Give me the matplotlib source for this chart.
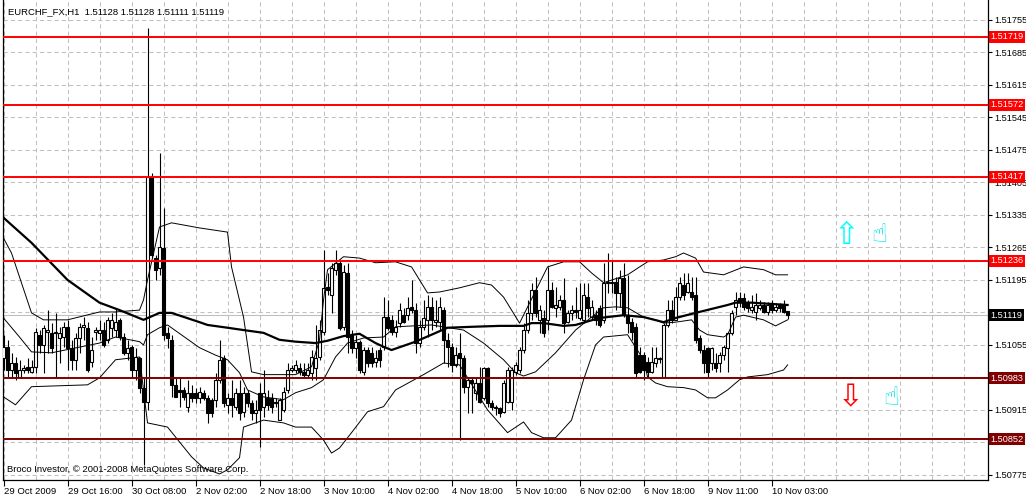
import matplotlib
matplotlib.use("Agg")
import matplotlib.pyplot as plt

plt.rcParams['font.family'] = ['Liberation Sans', 'DejaVu Sans']

# EURCHF H1 bars, 29 Oct 2009 00:00 .. 10 Nov 2009
opens = [
    1.51027, 1.51051, 1.51001, 1.51016, 1.50986, 1.51001, 1.51008, 1.50997, 1.51008, 1.51077,
    1.51055, 1.51083, 1.51081, 1.51081, 1.51070, 1.51072, 1.51094, 1.51049, 1.51023, 1.51070,
    1.51094, 1.51092, 1.51018, 1.51083, 1.51081, 1.51087, 1.51066, 1.51092, 1.51087, 1.51109,
    1.51072, 1.51038, 1.51051, 1.51001, 1.51027, 1.50963, 1.50933, 1.51417, 1.51242, 1.51221,
    1.51264, 1.51081, 1.51066, 1.50969, 1.50958, 1.50958, 1.50922, 1.50952, 1.50952, 1.50941,
    1.50952, 1.50941, 1.50937, 1.50937, 1.50980, 1.51027, 1.50926, 1.50941, 1.50922, 1.50952,
    1.50911, 1.50952, 1.50930, 1.50909, 1.50952, 1.50922, 1.50941, 1.50941, 1.50933, 1.50893,
    1.50915, 1.50958, 1.51001, 1.51001, 1.51005, 1.50997, 1.50991, 1.50995, 1.51005, 1.51029,
    1.51083, 1.51180, 1.51163, 1.51217, 1.51232, 1.51094, 1.51210, 1.51077, 1.51049, 1.51062,
    1.50997, 1.51044, 1.51038, 1.51018, 1.51044, 1.51051, 1.51115, 1.51109, 1.51083, 1.51102,
    1.51119, 1.51119, 1.51137, 1.51130, 1.51059, 1.51094, 1.51109, 1.51137, 1.51104, 1.51104,
    1.51130, 1.51066, 1.51051, 1.51012, 1.51038, 1.51027, 1.50965, 1.50980, 1.50952, 1.50973,
    1.50941, 1.51005, 1.50930, 1.50922, 1.50919, 1.50911, 1.50933, 1.50933, 1.50997, 1.51001,
    1.51044, 1.51087, 1.51124, 1.51173, 1.51109, 1.51113, 1.51109, 1.51173, 1.51135, 1.51137,
    1.51152, 1.51104, 1.51124, 1.51130, 1.51113, 1.51109, 1.51158, 1.51115, 1.51119, 1.51135,
    1.51109, 1.51189, 1.51191, 1.51191, 1.51167, 1.51199, 1.51119, 1.51104, 1.51094, 1.51033,
    1.51033, 1.51018, 1.50997, 1.51016, 1.51025, 1.50986, 1.51098, 1.51130, 1.51109, 1.51158,
    1.51184, 1.51169, 1.51169, 1.51163, 1.51070, 1.51044, 1.51049, 1.51016, 1.51016, 1.51016,
    1.51033, 1.51049, 1.51081, 1.51137, 1.51156, 1.51156, 1.51146, 1.51130, 1.51126, 1.51135,
    1.51141, 1.51126, 1.51146, 1.51130, 1.51141, 1.51141, 1.51128,
]
highs = [
    1.51077, 1.51066, 1.51038, 1.51029, 1.51023, 1.51012, 1.51027, 1.51023, 1.51092, 1.51087,
    1.51098, 1.51130, 1.51102, 1.51124, 1.51094, 1.51104, 1.51109, 1.51066, 1.51081, 1.51102,
    1.51115, 1.51104, 1.51072, 1.51094, 1.51109, 1.51104, 1.51115, 1.51124, 1.51135, 1.51113,
    1.51081, 1.51066, 1.51055, 1.51049, 1.51029, 1.50984, 1.51738, 1.51425, 1.51249, 1.51469,
    1.51350, 1.51094, 1.51077, 1.50984, 1.50984, 1.50965, 1.50980, 1.50969, 1.50963, 1.50965,
    1.50958, 1.50948, 1.50941, 1.50995, 1.51066, 1.51033, 1.50952, 1.50980, 1.50963, 1.50980,
    1.50965, 1.50958, 1.50937, 1.50937, 1.50973, 1.51001, 1.50958, 1.50952, 1.50941, 1.50941,
    1.50965, 1.51016, 1.51012, 1.51023, 1.51016, 1.51016, 1.51016, 1.51044, 1.51098, 1.51109,
    1.51260, 1.51210, 1.51232, 1.51260, 1.51238, 1.51228, 1.51232, 1.51087, 1.51077, 1.51066,
    1.51051, 1.51051, 1.51051, 1.51044, 1.51051, 1.51158, 1.51152, 1.51119, 1.51109, 1.51146,
    1.51135, 1.51158, 1.51195, 1.51146, 1.51109, 1.51152, 1.51163, 1.51158, 1.51152, 1.51158,
    1.51137, 1.51081, 1.51059, 1.51051, 1.51081, 1.51033, 1.50986, 1.50986, 1.50986, 1.51008,
    1.51008, 1.51008, 1.50937, 1.50926, 1.50922, 1.50980, 1.51008, 1.51008, 1.51018, 1.51051,
    1.51102, 1.51152, 1.51189, 1.51201, 1.51141, 1.51130, 1.51223, 1.51191, 1.51180, 1.51163,
    1.51199, 1.51130, 1.51141, 1.51180, 1.51189, 1.51189, 1.51189, 1.51152, 1.51130, 1.51141,
    1.51232, 1.51253, 1.51238, 1.51201, 1.51217, 1.51232, 1.51206, 1.51113, 1.51102, 1.51051,
    1.51040, 1.51029, 1.51051, 1.51051, 1.51029, 1.51102, 1.51152, 1.51152, 1.51180, 1.51201,
    1.51210, 1.51210, 1.51201, 1.51201, 1.51077, 1.51055, 1.51051, 1.51051, 1.51038, 1.51040,
    1.51055, 1.51083, 1.51130, 1.51169, 1.51169, 1.51167, 1.51152, 1.51163, 1.51167, 1.51152,
    1.51148, 1.51148, 1.51152, 1.51146, 1.51146, 1.51152, 1.51128,
]
lows = [
    1.51001, 1.50986, 1.50984, 1.50980, 1.50984, 1.50995, 1.50995, 1.50995, 1.50995, 1.51038,
    1.50995, 1.51038, 1.51038, 1.50984, 1.51016, 1.51051, 1.51001, 1.51001, 1.51001, 1.51038,
    1.51066, 1.50997, 1.51008, 1.51066, 1.51066, 1.51051, 1.51059, 1.51072, 1.51072, 1.51066,
    1.51033, 1.51023, 1.50984, 1.50980, 1.50952, 1.50797, 1.50915, 1.51242, 1.51195, 1.51206,
    1.51066, 1.51049, 1.50943, 1.50943, 1.50922, 1.50937, 1.50911, 1.50933, 1.50930, 1.50930,
    1.50937, 1.50887, 1.50900, 1.50922, 1.50973, 1.50922, 1.50909, 1.50900, 1.50915, 1.50893,
    1.50900, 1.50922, 1.50893, 1.50887, 1.50835, 1.50900, 1.50915, 1.50909, 1.50922, 1.50893,
    1.50911, 1.50952, 1.50997, 1.50995, 1.50991, 1.50986, 1.50986, 1.50980, 1.50980, 1.51023,
    1.51077, 1.51163, 1.51124, 1.51206, 1.51087, 1.51087, 1.51038, 1.51038, 1.51027, 1.50995,
    1.50991, 1.51008, 1.51008, 1.51008, 1.51008, 1.51044, 1.51087, 1.51077, 1.51072, 1.51094,
    1.51102, 1.51109, 1.51124, 1.51038, 1.51051, 1.51087, 1.51072, 1.51087, 1.51094, 1.51087,
    1.51016, 1.51008, 1.50997, 1.51008, 1.50850, 1.50952, 1.50909, 1.50909, 1.50937, 1.50930,
    1.50937, 1.50922, 1.50915, 1.50904, 1.50900, 1.50909, 1.50930, 1.50915, 1.50991, 1.50995,
    1.51038, 1.51081, 1.51109, 1.51115, 1.51081, 1.51072, 1.51087, 1.51135, 1.51115, 1.51130,
    1.51081, 1.51102, 1.51109, 1.51113, 1.51109, 1.51102, 1.51115, 1.51109, 1.51098, 1.51094,
    1.51102, 1.51167, 1.51167, 1.51130, 1.51137, 1.51115, 1.51081, 1.51066, 1.50986, 1.50995,
    1.50980, 1.50986, 1.50995, 1.51008, 1.51016, 1.50986, 1.51094, 1.51102, 1.51109, 1.51152,
    1.51152, 1.51167, 1.51152, 1.51059, 1.51038, 1.50995, 1.50986, 1.51001, 1.50997, 1.50997,
    1.51023, 1.50997, 1.51077, 1.51119, 1.51137, 1.51130, 1.51126, 1.51124, 1.51109, 1.51130,
    1.51124, 1.51119, 1.51124, 1.51126, 1.51126, 1.51124, 1.51111,
]
closes = [
    1.51051, 1.51001, 1.51016, 1.50995, 1.51001, 1.51005, 1.51001, 1.51008, 1.51083, 1.51055,
    1.51092, 1.51087, 1.51049, 1.51083, 1.51081, 1.51094, 1.51049, 1.51023, 1.51070, 1.51094,
    1.51098, 1.51001, 1.51044, 1.51087, 1.51087, 1.51055, 1.51109, 1.51109, 1.51104, 1.51072,
    1.51038, 1.51049, 1.51001, 1.51029, 1.50963, 1.50933, 1.51417, 1.51249, 1.51217, 1.51266,
    1.51077, 1.51070, 1.50969, 1.50943, 1.50954, 1.50943, 1.50952, 1.50941, 1.50941, 1.50954,
    1.50941, 1.50909, 1.50909, 1.50980, 1.51023, 1.50930, 1.50941, 1.50926, 1.50952, 1.50909,
    1.50952, 1.50930, 1.50909, 1.50915, 1.50915, 1.50952, 1.50926, 1.50922, 1.50930, 1.50937,
    1.50954, 1.51001, 1.51005, 1.51012, 1.50997, 1.50991, 1.51001, 1.51029, 1.51027, 1.51087,
    1.51178, 1.51173, 1.51221, 1.51232, 1.51092, 1.51212, 1.51072, 1.51049, 1.51062, 1.51001,
    1.51044, 1.51016, 1.51016, 1.51027, 1.51023, 1.51115, 1.51092, 1.51083, 1.51094, 1.51130,
    1.51104, 1.51135, 1.51130, 1.51059, 1.51094, 1.51113, 1.51137, 1.51109, 1.51109, 1.51137,
    1.51066, 1.51051, 1.51012, 1.51033, 1.51027, 1.50965, 1.50980, 1.50973, 1.50973, 1.50933,
    1.51005, 1.50930, 1.50922, 1.50919, 1.50909, 1.50973, 1.51001, 1.51001, 1.51012, 1.51044,
    1.51087, 1.51124, 1.51173, 1.51124, 1.51130, 1.51081, 1.51173, 1.51137, 1.51141, 1.51152,
    1.51102, 1.51124, 1.51130, 1.51126, 1.51130, 1.51163, 1.51135, 1.51137, 1.51109, 1.51098,
    1.51189, 1.51191, 1.51189, 1.51167, 1.51199, 1.51119, 1.51102, 1.51083, 1.50995, 1.50997,
    1.51001, 1.50997, 1.51018, 1.51027, 1.51027, 1.51098, 1.51130, 1.51109, 1.51158, 1.51189,
    1.51163, 1.51189, 1.51158, 1.51066, 1.51044, 1.51016, 1.50997, 1.51049, 1.51005, 1.51033,
    1.51051, 1.51081, 1.51124, 1.51152, 1.51148, 1.51137, 1.51135, 1.51137, 1.51141, 1.51141,
    1.51126, 1.51141, 1.51130, 1.51137, 1.51135, 1.51126, 1.51119,
]

# Bollinger bands (read at sample bars) and the slow moving average
bb_up_bar = [0, 2, 7, 10, 16, 24, 28, 34, 35, 36, 39, 42, 49, 56, 57, 60, 62, 65, 73, 77,
             79, 80, 81, 85, 89, 93, 98, 102, 106, 109, 114, 119, 122, 125, 129, 136, 140,
             144, 147, 150, 156, 159, 161, 165, 168, 170, 173, 175, 180, 185, 190, 193, 196]
bb_up = [1.51285, 1.51253, 1.51124, 1.51109, 1.51109, 1.51126, 1.51126, 1.51130, 1.51152,
         1.51195, 1.51309, 1.51318, 1.51307, 1.51298, 1.51223, 1.51115, 1.50997, 1.50991,
         1.50991, 1.51008, 1.51066, 1.51152, 1.51217, 1.51245, 1.51242, 1.51232, 1.51234,
         1.51223, 1.51167, 1.51169, 1.51178, 1.51189, 1.51184, 1.51158, 1.51102, 1.51223,
         1.51234, 1.51234, 1.51210, 1.51189, 1.51206, 1.51223, 1.51234, 1.51238, 1.51245,
         1.51253, 1.51242, 1.51212, 1.51206, 1.51223, 1.51217, 1.51206, 1.51206]

bb_mid_bar = [0, 4, 7, 12, 24, 28, 34, 35, 36, 39, 41, 49, 53, 56, 59, 61, 65, 70, 73, 77,
              80, 83, 86, 90, 95, 98, 107, 115, 120, 125, 128, 130, 133, 138, 143, 147, 150,
              153, 156, 160, 163, 165, 168, 172, 174, 176, 180, 181, 183, 185, 190, 193, 196]
bb_mid = [1.51113, 1.51072, 1.51040, 1.51038, 1.51059, 1.51072, 1.51062, 1.51055, 1.51077,
          1.51092, 1.51098, 1.51049, 1.51033, 1.51023, 1.50995, 1.50958, 1.50943, 1.50937,
          1.50952, 1.50963, 1.50980, 1.51029, 1.51059, 1.51070, 1.51072, 1.51094, 1.51098,
          1.51087, 1.51059, 1.51023, 1.50995, 1.50988, 1.50997, 1.51038, 1.51087, 1.51115,
          1.51135, 1.51137, 1.51135, 1.51115, 1.51109, 1.51102, 1.51104, 1.51109, 1.51087,
          1.51077, 1.51072, 1.51077, 1.51115, 1.51119, 1.51109, 1.51096, 1.51109]

bb_low_bar = [0, 3, 7, 21, 24, 28, 34, 36, 41, 44, 47, 50, 54, 56, 59, 60, 65, 70, 73, 77,
              80, 82, 84, 87, 91, 95, 98, 105, 110, 114, 121, 126, 130, 132, 135, 138, 142,
              145, 148, 150, 156, 160, 161, 163, 166, 170, 173, 176, 178, 181, 184, 186, 191,
              195, 196]
bb_low = [1.50943, 1.50926, 1.50965, 1.50969, 1.50984, 1.51023, 1.51029, 1.50887, 1.50878,
          1.50846, 1.50814, 1.50790, 1.50777, 1.50786, 1.50812, 1.50878, 1.50893, 1.50887,
          1.50878, 1.50878, 1.50850, 1.50822, 1.50833, 1.50866, 1.50911, 1.50922, 1.50958,
          1.50991, 1.51016, 1.51012, 1.50915, 1.50866, 1.50889, 1.50866, 1.50855, 1.50855,
          1.50893, 1.50980, 1.51055, 1.51072, 1.51077, 1.51023, 1.50986, 1.50973, 1.50965,
          1.50963, 1.50958, 1.50941, 1.50941, 1.50958, 1.50980, 1.50986, 1.50991, 1.51001,
          1.51012]

ma_bar = [0, 7, 16, 24, 29, 35, 39, 42, 49, 51, 56, 60, 65, 69, 73, 78, 81, 85, 89, 90, 93,
          95, 97, 103, 111, 117, 124, 130, 132, 135, 140, 143, 149, 151, 155, 160, 165, 168,
          173, 181, 183, 187, 196]
ma = [1.51329, 1.51275, 1.51195, 1.51146, 1.51130, 1.51109, 1.51124, 1.51124, 1.51104,
      1.51098, 1.51092, 1.51087, 1.51081, 1.51066, 1.51062, 1.51059, 1.51064, 1.51074,
      1.51079, 1.51074, 1.51059, 1.51051, 1.51044, 1.51062, 1.51092, 1.51094, 1.51096,
      1.51096, 1.51102, 1.51102, 1.51096, 1.51098, 1.51113, 1.51115, 1.51119, 1.51115,
      1.51104, 1.51113, 1.51124, 1.51141, 1.51146, 1.51146, 1.51141]

# support / resistance lines
levels_red = [1.51719, 1.51572, 1.51417, 1.51236]
levels_dark = [1.50983, 1.50852]
bid = 1.51119

price_ticks = [1.50775, 1.50845, 1.50915, 1.50985, 1.51055, 1.51125, 1.51195, 1.51265,
               1.51335, 1.51405, 1.51475, 1.51545, 1.51615, 1.51685, 1.51755]
# labels fully covered by the price boxes are left blank
hidden_ticks = [1.50845, 1.50985, 1.51125]
time_tick_bars = [0, 16, 32, 48, 64, 80, 96, 112, 128, 144, 160, 176, 192]
time_labels = ["29 Oct 2009", "29 Oct 16:00", "30 Oct 08:00", "2 Nov 02:00", "2 Nov 18:00",
               "3 Nov 10:00", "4 Nov 02:00", "4 Nov 18:00", "5 Nov 10:00", "6 Nov 02:00",
               "6 Nov 18:00", "9 Nov 11:00", "10 Nov 03:00"]

W, H = 1026, 495
fig = plt.figure(figsize=(W / 100, H / 100), dpi=100)
ax = fig.add_axes([3 / W, 15 / H, 985 / W, 480 / H])
ax.set_xlim(-0.125, 246.1)
ax.set_ylim(1.50764, 1.51798)

# grid
ax.set_xticks(time_tick_bars)
ax.set_xticks(range(0, 247, 8), minor=True)
ax.set_xticklabels(time_labels, ha='left', fontsize=6.8)
ax.set_yticks(price_ticks)
ax.set_yticklabels(["" if p in hidden_ticks else f"{p:.5f}" for p in price_ticks],
                   fontsize=6.6)
ax.yaxis.tick_right()
ax.tick_params(axis='y', length=3, pad=1.5, width=0.8)
ax.tick_params(axis='x', which='major', length=4, pad=1, width=0.8)
ax.tick_params(axis='x', which='minor', length=0)
ax.grid(True, which='both', axis='x', color='#c0c0c0', ls=(0, (4, 3)), lw=0.75)
ax.grid(True, which='major', axis='y', color='#c0c0c0', ls=(0, (4, 3)), lw=0.75)
ax.set_axisbelow(True)
for side in ['left', 'right', 'bottom']:
    ax.spines[side].set_linewidth(0.9)
ax.spines['top'].set_visible(False)

ax.axhline(bid, color='#c0c0c0', lw=0.8, zorder=1)

# candles
bars = range(len(closes))
ax.vlines(bars, lows, highs, color='black', lw=0.8, zorder=3)
for i in bars:
    up = closes[i] >= opens[i]
    ax.bar(i, closes[i] - opens[i], bottom=opens[i], width=0.62,
           color='white' if up else 'black', edgecolor='black', lw=0.8, zorder=4)

# indicators
ax.plot(bb_up_bar, bb_up, color='black', lw=0.7, zorder=5)
ax.plot(bb_mid_bar, bb_mid, color='black', lw=0.7, zorder=5)
ax.plot(bb_low_bar, bb_low, color='black', lw=0.7, zorder=5)
ax.plot(ma_bar, ma, color='black', lw=1.6, zorder=5, solid_joinstyle='round')

for lv in levels_red:
    ax.axhline(lv, color='#ff0000', lw=1.4, zorder=6)
for lv in levels_dark:
    ax.axhline(lv, color='#800000', lw=1.4, zorder=6)

# price boxes on the right scale
ytr = ax.get_yaxis_transform()
boxes = [(lv, '#ff0000') for lv in levels_red] + [(lv, '#800000') for lv in levels_dark] + [(bid, 'black')]
for lv, col in boxes:
    ax.text(1.0025, lv, f"{lv:.5f}", transform=ytr, color='white', fontsize=6.6,
            va='center', ha='left', clip_on=False, zorder=10,
            bbox=dict(boxstyle='square,pad=0.18', fc=col, ec='none'))

fig.text(8 / W, 1 - 12 / H, "EURCHF_FX,H1  1.51128 1.51128 1.51111 1.51119",
         fontsize=6.8, va='center', ha='left')
fig.text(7 / W, 1 - 470 / H, "Broco Investor, © 2001-2008 MetaQuotes Software Corp.",
         fontsize=6.8, va='center', ha='left')

# signal arrows
fig.text(847 / W, 1 - 236 / H, "\u21e7", fontsize=22, color='#00ffff', ha='center', va='center',
         family='DejaVu Sans')
fig.text(879 / W, 1 - 235 / H, "\u261d", fontsize=19, color='#00e0e0', ha='center', va='center',
         family='DejaVu Sans')
fig.text(851 / W, 1 - 398 / H, "\u21e9", fontsize=22, color='#ff0000', ha='center', va='center',
         family='DejaVu Sans')
fig.text(891 / W, 1 - 398 / H, "\u261d", fontsize=19, color='#00e0e0', ha='center', va='center',
         family='DejaVu Sans')

fig.savefig("out.png", dpi=100, facecolor='white')
